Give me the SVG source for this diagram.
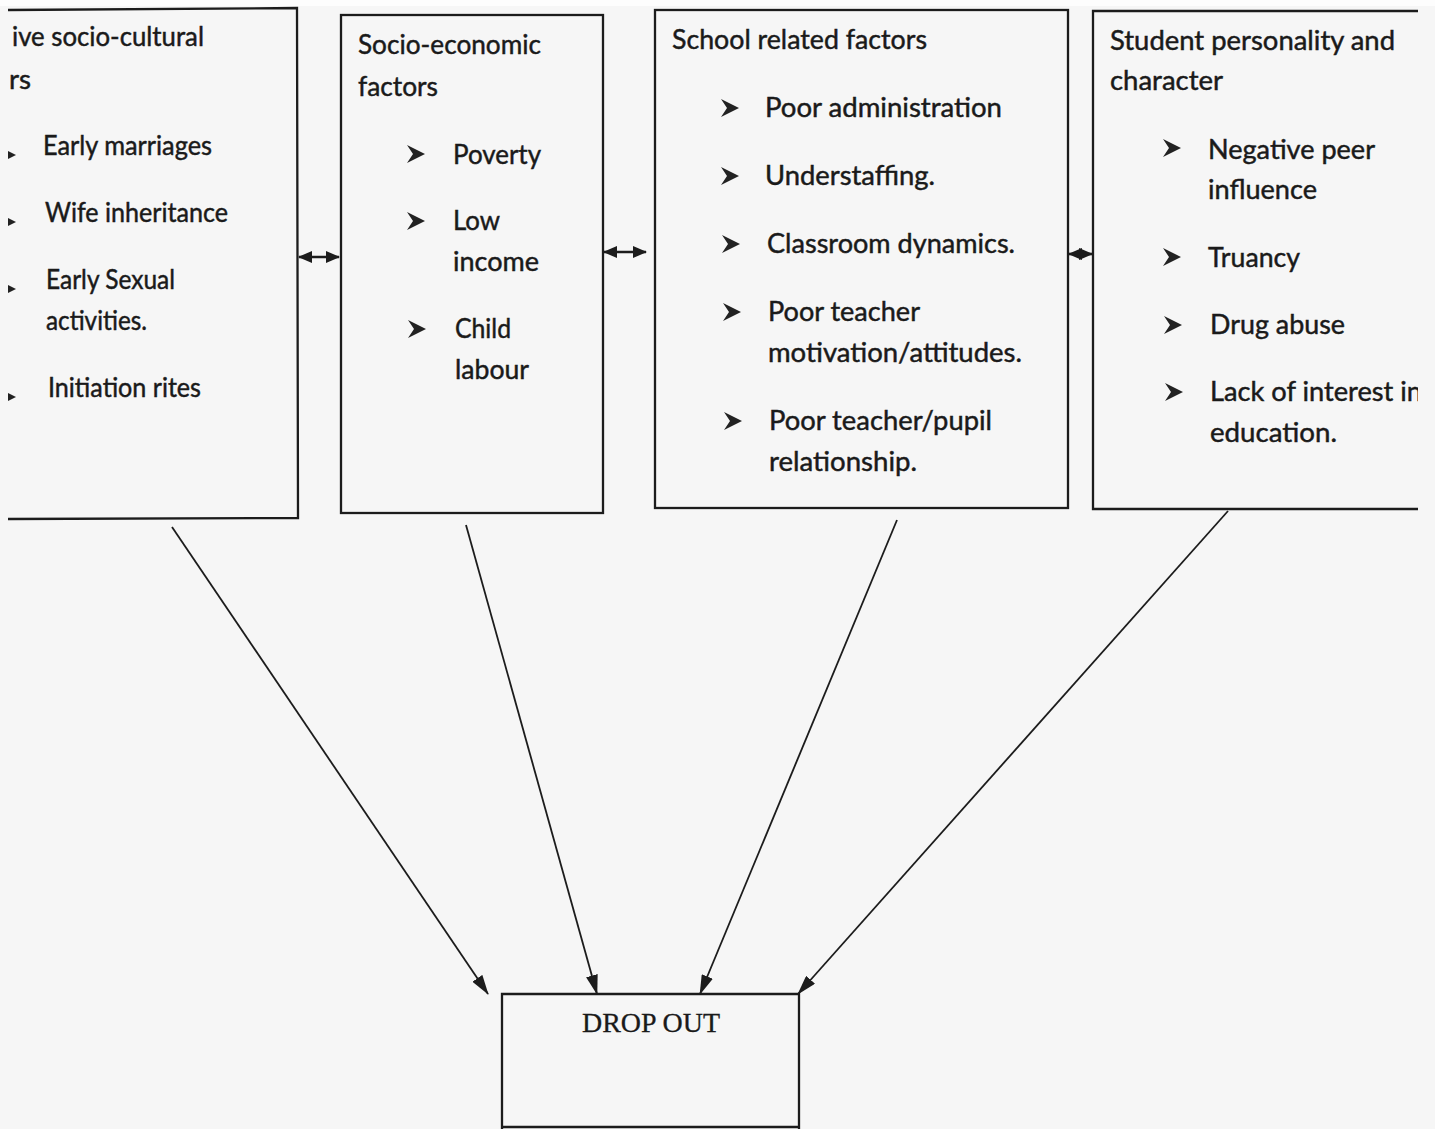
<svg xmlns="http://www.w3.org/2000/svg" width="1435" height="1129" viewBox="0 0 1435 1129">
  <style>
    .box { fill: none; stroke: #1c1c1c; stroke-width: 2.3; }
    .t { font-family: Lato, "Open Sans", "Liberation Sans", sans-serif; font-size: 26px; fill: #1a1a1a; stroke: #1a1a1a; stroke-width: 0.45; }
    .serif { font-family: "Liberation Serif", "DejaVu Serif", serif; font-size: 28px; fill: #1a1a1a; stroke: #1a1a1a; stroke-width: 0.3; }
    .con { stroke: #1c1c1c; stroke-width: 1.8; fill: none; }
    .dbl { stroke: #1c1c1c; stroke-width: 2.6; fill: none; }
    .bul { fill: #222; }
  </style>
  <defs>
    <marker id="ah" viewBox="0 0 20 12" refX="19" refY="6" markerWidth="20" markerHeight="12" markerUnits="userSpaceOnUse" orient="auto">
      <path d="M0,0 L20,6 L0,12 Z" fill="#1c1c1c"/>
    </marker>
    <marker id="dh" viewBox="0 0 14 12" refX="13" refY="6" markerWidth="14" markerHeight="12" markerUnits="userSpaceOnUse" orient="auto-start-reverse">
      <path d="M0,0 L14,6 L0,12 Z" fill="#1c1c1c"/>
    </marker>
    <symbol id="bullet" viewBox="0 0 18 18">
      <path d="M0,0 L18,9 L0,18 L6,9 Z" class="bul"/>
    </symbol>
    <clipPath id="clipL"><rect x="8" y="0" width="400" height="1129"/></clipPath>
    <clipPath id="clipR"><rect x="1000" y="0" width="418" height="1129"/></clipPath>
  </defs>

  <rect x="0" y="0" width="1435" height="1129" fill="#f6f6f6"/>
  <rect x="0" y="0" width="1435" height="6" fill="#fdfdfd"/>

  <g id="node-sociocultural" clip-path="url(#clipL)">
    <path class="box" d="M8,10 L297,8 L298,518 L8,519"/>
    <text class="t" x="12" y="46" textLength="192" lengthAdjust="spacingAndGlyphs">ive socio-cultural</text>
    <text class="t" x="9" y="89" textLength="22" lengthAdjust="spacingAndGlyphs">rs</text>
    <use href="#bullet" x="-2" y="146" width="18" height="18"/>
    <text class="t" x="43" y="155" textLength="169" lengthAdjust="spacingAndGlyphs">Early marriages</text>
    <use href="#bullet" x="-2" y="213" width="18" height="18"/>
    <text class="t" x="45" y="222" textLength="183" lengthAdjust="spacingAndGlyphs">Wife inheritance</text>
    <use href="#bullet" x="-2" y="280" width="18" height="18"/>
    <text class="t" x="46" y="289" textLength="129" lengthAdjust="spacingAndGlyphs">Early Sexual</text>
    <text class="t" x="46" y="330" textLength="101" lengthAdjust="spacingAndGlyphs">activities.</text>
    <use href="#bullet" x="-2" y="388" width="18" height="18"/>
    <text class="t" x="48" y="397" textLength="153" lengthAdjust="spacingAndGlyphs">Initiation rites</text>
  </g>

  <g id="node-socioeconomic">
    <rect class="box" x="341" y="15" width="262" height="498"/>
    <text class="t" x="358" y="54" textLength="183" lengthAdjust="spacingAndGlyphs">Socio-economic</text>
    <text class="t" x="358" y="96" textLength="80" lengthAdjust="spacingAndGlyphs">factors</text>
    <use href="#bullet" x="407" y="145" width="18" height="18"/>
    <text class="t" x="453" y="164" textLength="88" lengthAdjust="spacingAndGlyphs">Poverty</text>
    <use href="#bullet" x="407" y="212" width="18" height="18"/>
    <text class="t" x="453" y="230" textLength="47" lengthAdjust="spacingAndGlyphs">Low</text>
    <text class="t" x="453" y="271" textLength="86" lengthAdjust="spacingAndGlyphs">income</text>
    <use href="#bullet" x="408" y="320" width="18" height="18"/>
    <text class="t" x="455" y="338" textLength="56" lengthAdjust="spacingAndGlyphs">Child</text>
    <text class="t" x="455" y="379" textLength="74" lengthAdjust="spacingAndGlyphs">labour</text>
  </g>

  <g id="node-school">
    <rect class="box" x="655" y="10" width="413" height="498"/>
    <text class="t" x="672" y="49" textLength="255" lengthAdjust="spacingAndGlyphs">School related factors</text>
    <use href="#bullet" x="721" y="99" width="18" height="18"/>
    <text class="t" x="765" y="117" textLength="237" lengthAdjust="spacingAndGlyphs">Poor administration</text>
    <use href="#bullet" x="721" y="167" width="18" height="18"/>
    <text class="t" x="765" y="185" textLength="170" lengthAdjust="spacingAndGlyphs">Understaffing.</text>
    <use href="#bullet" x="722" y="235" width="18" height="18"/>
    <text class="t" x="767" y="253" textLength="248" lengthAdjust="spacingAndGlyphs">Classroom dynamics.</text>
    <use href="#bullet" x="723" y="303" width="18" height="18"/>
    <text class="t" x="768" y="321" textLength="152" lengthAdjust="spacingAndGlyphs">Poor teacher</text>
    <text class="t" x="768" y="362" textLength="254" lengthAdjust="spacingAndGlyphs">motivation/attitudes.</text>
    <use href="#bullet" x="724" y="412" width="18" height="18"/>
    <text class="t" x="769" y="430" textLength="223" lengthAdjust="spacingAndGlyphs">Poor teacher/pupil</text>
    <text class="t" x="769" y="471" textLength="148" lengthAdjust="spacingAndGlyphs">relationship.</text>
  </g>

  <g id="node-student" clip-path="url(#clipR)">
    <path class="box" d="M1430,11 L1093,11 L1093,509 L1430,509"/>
    <text class="t" x="1110" y="50" textLength="285" lengthAdjust="spacingAndGlyphs">Student personality and</text>
    <text class="t" x="1110" y="90" textLength="113" lengthAdjust="spacingAndGlyphs">character</text>
    <use href="#bullet" x="1163" y="139" width="18" height="18"/>
    <text class="t" x="1208" y="159" textLength="167" lengthAdjust="spacingAndGlyphs">Negative peer</text>
    <text class="t" x="1208" y="199" textLength="109" lengthAdjust="spacingAndGlyphs">influence</text>
    <use href="#bullet" x="1163" y="248" width="18" height="18"/>
    <text class="t" x="1208" y="267" textLength="92" lengthAdjust="spacingAndGlyphs">Truancy</text>
    <use href="#bullet" x="1164" y="316" width="18" height="18"/>
    <text class="t" x="1210" y="334" textLength="135" lengthAdjust="spacingAndGlyphs">Drug abuse</text>
    <use href="#bullet" x="1165" y="383" width="18" height="18"/>
    <text class="t" x="1210" y="401" textLength="212" lengthAdjust="spacingAndGlyphs">Lack of interest in</text>
    <text class="t" x="1210" y="442" textLength="127" lengthAdjust="spacingAndGlyphs">education.</text>
  </g>

  <g id="node-dropout">
    <path class="box" d="M502,1129 L502,994 L799,994 L799,1129"/>
    <line class="box" x1="502" y1="1127" x2="799" y2="1127"/>
    <text class="serif" x="582" y="1032" textLength="138" lengthAdjust="spacingAndGlyphs">DROP OUT</text>
  </g>

  <g id="connectors">
    <line class="con" x1="172" y1="527" x2="488" y2="994" marker-end="url(#ah)"/>
    <line class="con" x1="466" y1="525" x2="597" y2="994" marker-end="url(#ah)"/>
    <line class="con" x1="897" y1="520" x2="700" y2="994" marker-end="url(#ah)"/>
    <line class="con" x1="1228" y1="511" x2="798" y2="994" marker-end="url(#ah)"/>
    <line class="dbl" x1="299" y1="257" x2="339" y2="257" marker-start="url(#dh)" marker-end="url(#dh)"/>
    <line class="dbl" x1="604" y1="252" x2="646" y2="252" marker-start="url(#dh)" marker-end="url(#dh)"/>
    <line class="dbl" x1="1069" y1="254" x2="1092" y2="254" marker-start="url(#dh)" marker-end="url(#dh)"/>
  </g>
</svg>
